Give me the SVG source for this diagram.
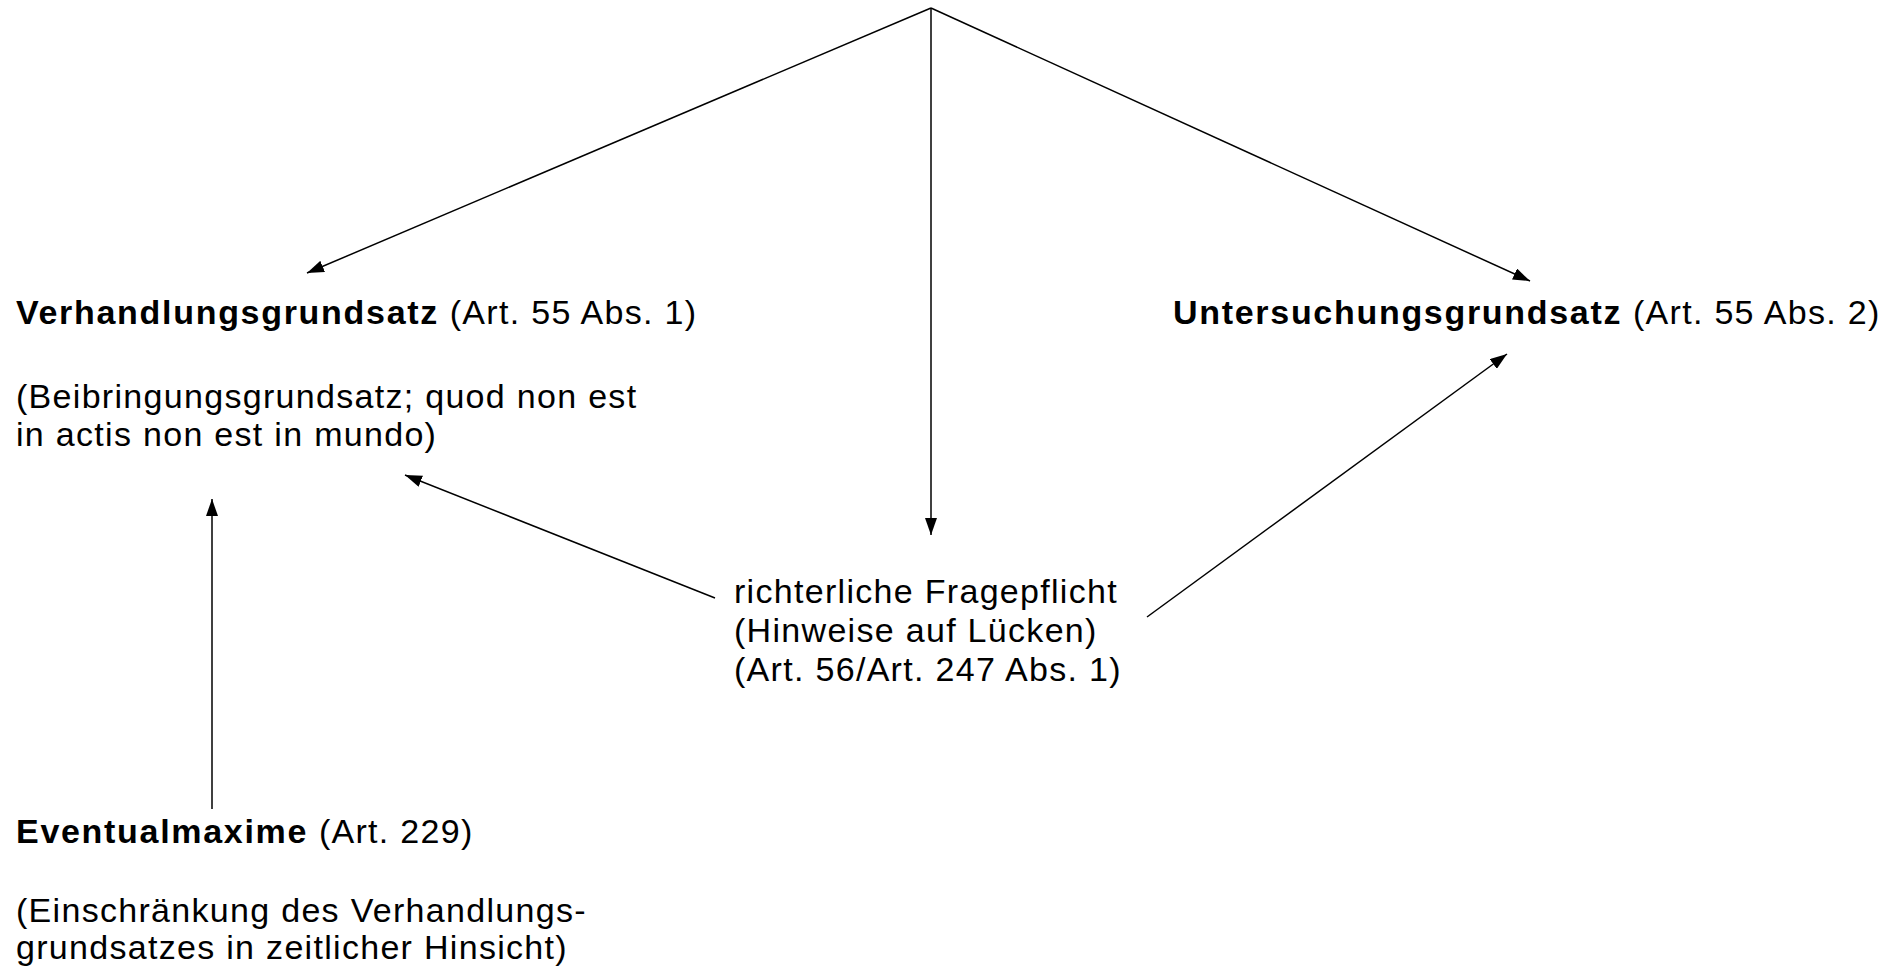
<svg xmlns="http://www.w3.org/2000/svg" width="1899" height="968" viewBox="0 0 1899 968">
<style>
text{font-family:"Liberation Sans",Arial,sans-serif;font-size:34px;letter-spacing:1.3px;fill:#000}
.b{font-weight:bold;letter-spacing:1.7px}
.c{stroke:#000;stroke-width:1.5;fill:none;marker-end:url(#ah)}
</style>
<defs>
<marker id="ah" markerUnits="userSpaceOnUse" markerWidth="18" markerHeight="12" refX="17" refY="6" orient="auto">
<path d="M0,0 L17,6 L0,12 z" fill="#000"/>
</marker>
</defs>
<rect width="1899" height="968" fill="#fff"/>
<g id="connectors">
<line class="c" x1="931" y1="8" x2="307" y2="273"/>
<line class="c" x1="931" y1="8" x2="931" y2="535"/>
<line class="c" x1="931" y1="8" x2="1530" y2="281"/>
<line class="c" x1="715" y1="598" x2="405" y2="475"/>
<line class="c" x1="1147" y1="617" x2="1507" y2="354"/>
<line class="c" x1="212" y1="809" x2="212" y2="499"/>
</g>
<g id="verhandlung">
<text x="16" y="324"><tspan class="b">Verhandlungsgrundsatz</tspan> (Art. 55 Abs. 1)</text>
<text x="16" y="408">(Beibringungsgrundsatz; quod non est</text>
<text x="16" y="446">in actis non est in mundo)</text>
</g>
<g id="untersuchung">
<text x="1173" y="324"><tspan class="b">Untersuchungsgrundsatz</tspan> (Art. 55 Abs. 2)</text>
</g>
<g id="fragepflicht">
<text x="734" y="603">richterliche Fragepflicht</text>
<text x="734" y="642">(Hinweise auf Lücken)</text>
<text x="734" y="681">(Art. 56/Art. 247 Abs. 1)</text>
</g>
<g id="eventualmaxime">
<text x="16" y="843"><tspan class="b">Eventualmaxime</tspan> (Art. 229)</text>
<text x="16" y="922">(Einschränkung des Verhandlungs-</text>
<text x="16" y="959">grundsatzes in zeitlicher Hinsicht)</text>
</g>
</svg>
